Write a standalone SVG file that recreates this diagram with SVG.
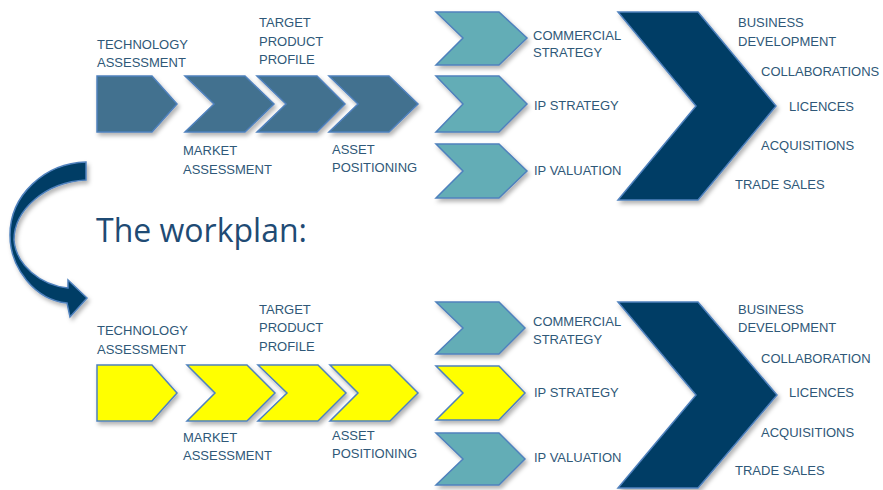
<svg xmlns="http://www.w3.org/2000/svg" width="883" height="490" viewBox="0 0 883 490">
<defs>
<filter id="sh" x="-20%" y="-20%" width="140%" height="150%">
<feDropShadow dx="2" dy="3" stdDeviation="2" flood-color="#000" flood-opacity="0.3"/>
</filter>
</defs>
<style>
.lbl{font-family:"Liberation Sans",Arial,sans-serif;font-size:13px;fill:#2f5878}
.title{font-family:"Open Sans","Liberation Sans",sans-serif;font-size:32px;fill:#1f4b74}
.slate{fill:#42718f;stroke:#4f81bd;stroke-width:1.5;filter:url(#sh)}
.teal{fill:#64adb6;stroke:#4f81bd;stroke-width:1.5;filter:url(#sh)}
.yel{fill:#ffff00;stroke:#4f81bd;stroke-width:1.5;filter:url(#sh)}
.navy{fill:#003d65;stroke:#4f81bd;stroke-width:1.5;filter:url(#sh)}
</style>
<rect width="883" height="490" fill="#fff"/>

<!-- Top row -->
<g id="top-tech"><polygon class="slate" points="97,76 152,76 177,104 152,132 97,132"/>
<text class="lbl" x="97" y="49">TECHNOLOGY</text><text class="lbl" x="97" y="67">ASSESSMENT</text></g>
<g id="top-market"><polygon class="slate" points="185,76 245,76 274,104 245,132 185,132 214,104"/>
<text class="lbl" x="183" y="155">MARKET</text><text class="lbl" x="183" y="174">ASSESSMENT</text></g>
<g id="top-tpp"><polygon class="slate" points="257,76 317,76 345,104 317,132 257,132 286,104"/>
<text class="lbl" x="259" y="27">TARGET</text><text class="lbl" x="259" y="46">PRODUCT</text><text class="lbl" x="259" y="64">PROFILE</text></g>
<g id="top-asset"><polygon class="slate" points="329,76 389,76 418,104 389,132 329,132 358,104"/>
<text class="lbl" x="332" y="154">ASSET</text><text class="lbl" x="332" y="172">POSITIONING</text></g>
<g id="top-commercial"><polygon class="teal" points="436,12 499,12 527,38 499,65 436,65 463,38"/>
<text class="lbl" x="533" y="40">COMMERCIAL</text><text class="lbl" x="533" y="57">STRATEGY</text></g>
<g id="top-ipstrategy"><polygon class="teal" points="436,76 499,76 527,104 499,132 436,132 463,104"/>
<text class="lbl" x="534" y="110">IP STRATEGY</text></g>
<g id="top-ipvaluation"><polygon class="teal" points="436,144 499,144 527,171 499,198 436,198 463,171"/>
<text class="lbl" x="534" y="175">IP VALUATION</text></g>
<g id="top-bd"><polygon class="navy" points="618,12 698,12 776,106 698,200 618,200 696,106"/>
<text class="lbl" x="738" y="27">BUSINESS</text><text class="lbl" x="738" y="46">DEVELOPMENT</text>
<text class="lbl" x="761" y="76">COLLABORATIONS</text>
<text class="lbl" x="789" y="111">LICENCES</text>
<text class="lbl" x="761" y="150">ACQUISITIONS</text>
<text class="lbl" x="735" y="189">TRADE SALES</text></g>

<!-- Title -->
<g id="title"><text class="title" x="96" y="242">The workplan:</text></g>

<!-- Connector -->
<g id="connectors">
<path class="navy" d="M86,162 C45,163 10,195 10,235 C10,268 35,300 67,303 L70,317 L87,298 L68,280 L68,288 C40,285 16,265 14,240 C14,210 45,182 86,180 Z"/>
</g>

<!-- Bottom row -->
<g id="bot-tech"><polygon class="yel" points="97,365 152,365 177,393 152,421 97,421"/>
<text class="lbl" x="97" y="335">TECHNOLOGY</text><text class="lbl" x="97" y="354">ASSESSMENT</text></g>
<g id="bot-market"><polygon class="yel" points="187,365 247,365 275,393 247,421 187,421 215,393"/>
<text class="lbl" x="183" y="442">MARKET</text><text class="lbl" x="183" y="460">ASSESSMENT</text></g>
<g id="bot-tpp"><polygon class="yel" points="258,365 318,365 346,393 318,421 258,421 287,393"/>
<text class="lbl" x="259" y="314">TARGET</text><text class="lbl" x="259" y="332">PRODUCT</text><text class="lbl" x="259" y="351">PROFILE</text></g>
<g id="bot-asset"><polygon class="yel" points="330,365 390,365 418,393 390,421 330,421 358,393"/>
<text class="lbl" x="332" y="440">ASSET</text><text class="lbl" x="332" y="458">POSITIONING</text></g>
<g id="bot-commercial"><polygon class="teal" points="436,302 499,302 525,328 499,354 436,354 463,328"/>
<text class="lbl" x="533" y="326">COMMERCIAL</text><text class="lbl" x="533" y="344">STRATEGY</text></g>
<g id="bot-ipstrategy"><polygon class="yel" points="436,366 499,366 525,393 499,420 436,420 463,393"/>
<text class="lbl" x="534" y="397">IP STRATEGY</text></g>
<g id="bot-ipvaluation"><polygon class="teal" points="436,433 499,433 525,459 499,485 436,485 463,459"/>
<text class="lbl" x="534" y="462">IP VALUATION</text></g>
<g id="bot-bd"><polygon class="navy" points="618,302 698,302 777,395 698,488 618,488 696,395"/>
<text class="lbl" x="738" y="314">BUSINESS</text><text class="lbl" x="738" y="332">DEVELOPMENT</text>
<text class="lbl" x="761" y="363">COLLABORATION</text>
<text class="lbl" x="789" y="397">LICENCES</text>
<text class="lbl" x="761" y="437">ACQUISITIONS</text>
<text class="lbl" x="735" y="475">TRADE SALES</text></g>
</svg>
